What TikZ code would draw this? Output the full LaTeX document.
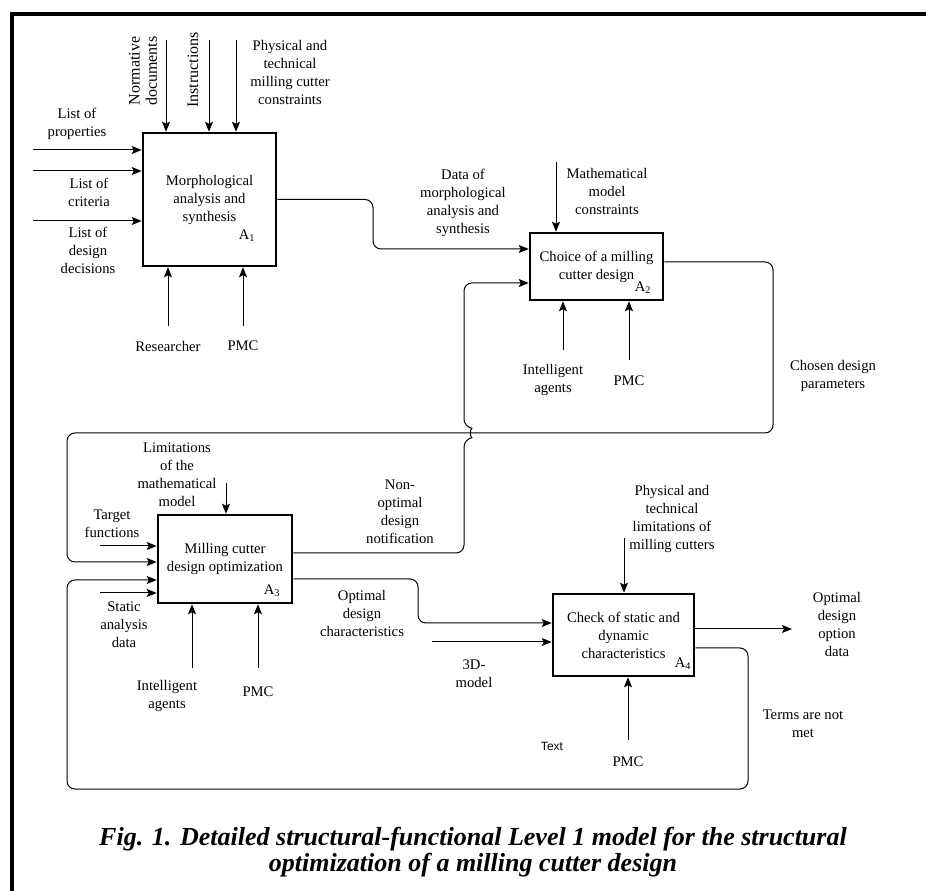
\documentclass[tikz,border=0pt]{standalone}
\usepackage{fontspec}
\setmainfont{Liberation Serif}
\newfontfamily\labelsans{Liberation Sans}
\usetikzlibrary{arrows.meta,calc}

\tikzset{every picture/.style={line width=0.75pt}}
\tikzset{
  funcbox/.style={draw, line width=1.9pt, align=center, inner sep=2pt, font=\fontsize{11}{13.5}\selectfont},
  lbl/.style={align=center, inner sep=0.75pt, font=\fontsize{11}{13.5}\selectfont},
  vlbl/.style={align=center, inner sep=0.75pt, rotate=90, font=\fontsize{12}{13}\selectfont},
  idx/.style={inner sep=0.75pt, font=\fontsize{11}{13.5}\selectfont},
  flow/.style={-{Stealth[length=7.5pt,width=6pt,inset=1.5pt]}, rounded corners=6pt},
}

\begin{document}
\begin{tikzpicture}[x=0.75pt,y=0.75pt,yscale=-1,xscale=1]
\useasboundingbox (0,0) rectangle (926,891);

%Frame
\draw [line width=3pt] (12,891) -- (12,14) -- (926,14) ;

%Shape: Boxes
\node [funcbox, minimum width=99.75pt, minimum height=99.75pt] (A1) at (209.5,199.5) {Morphological\\analysis and\\synthesis};
\node [funcbox, minimum width=99.75pt, minimum height=50.25pt] (A2) at (596.5,266.5) {Choice of a milling\\cutter design};
\node [funcbox, minimum width=100.5pt, minimum height=66pt] (A3) at (225,559) {Milling cutter\\design optimization};
\node [funcbox, minimum width=105.75pt, minimum height=61.5pt] (A4) at (623.5,635) {Check of static and\\dynamic\\characteristics};

% Box numbers
\node [idx] (A1n) at (247,236) {A\textsubscript{1}};
\node [idx] (A2n) at (643,288) {A\textsubscript{2}};
\node [idx] (A3n) at (272,591) {A\textsubscript{3}};
\node [idx] (A4n) at (683,664) {A\textsubscript{4}};

%Free ends
\coordinate (prop) at (33,150);
\coordinate (crit) at (33,171);
\coordinate (decis) at (33,221);
\coordinate (normdoc) at (166,40);
\coordinate (instr) at (209,40);
\coordinate (physcon) at (236,40);
\coordinate (resrch) at (168,326);
\coordinate (pmca) at (243,326);
\coordinate (mathcon) at (556,162);
\coordinate (agentsb) at (563,350);
\coordinate (pmcb) at (629,360);
\coordinate (mathlim) at (226,483);
\coordinate (target) at (100,546);
\coordinate (static) at (100,593);
\coordinate (agentsc) at (192,668);
\coordinate (pmcc) at (258,668);
\coordinate (model3d) at (432,642);
\coordinate (physlim) at (624,538);
\coordinate (pmcd) at (628,740);
\coordinate (optdata) at (792,629);

%Straight Lines: A1
\draw [flow] (prop) -- (prop -| A1.west) ;
\draw [flow] (crit) -- (crit -| A1.west) ;
\draw [flow] (decis) -- (decis -| A1.west) ;
\draw [flow] (normdoc) -- (normdoc |- A1.north) ;
\draw [flow] (instr) -- (instr |- A1.north) ;
\draw [flow] (physcon) -- (physcon |- A1.north) ;
\draw [flow] (resrch) -- (resrch |- A1.south) ;
\draw [flow] (pmca) -- (pmca |- A1.south) ;

%Straight Lines: A2
\draw [flow] (A1.east) -- (373,199.5) -- (373,249) -- ($(A2.west)+(0,-17.5)$) ;
\draw [flow] (mathcon) -- (mathcon |- A2.north) ;
\draw [flow] (agentsb) -- (agentsb |- A2.south) ;
\draw [flow] (pmcb) -- (pmcb |- A2.south) ;

%Straight Lines: A3
\draw [flow] ($(A2.east)+(0,-4.5)$) -- (773,262) -- (773,433) -- (67,433) -- (67,562) -- ($(A3.west)+(0,3)$) ;
\draw [flow] ($(A3.east)+(0,-6)$) -- (464,553) -- (464,439) .. controls (470,438) and (470,428) .. (464,427) -- (464,283) -- ($(A2.west)+(0,16.5)$) ;
\draw [flow] (target) -- (target -| A3.west) ;
\draw [flow] (static) -- (static -| A3.west) ;
\draw [flow] (mathlim) -- (mathlim |- A3.north) ;
\draw [flow] (agentsc) -- (agentsc |- A3.south) ;
\draw [flow] (pmcc) -- (pmcc |- A3.south) ;

%Straight Lines: A4
\draw [flow] ($(A3.east)+(0,20)$) -- (418,579) -- (418,623) -- ($(A4.west)+(0,-12)$) ;
\draw [flow] (model3d) -- (model3d -| A4.west) ;
\draw [flow] (physlim) -- (physlim |- A4.north) ;
\draw [flow] (pmcd) -- (pmcd |- A4.south) ;
\draw [flow] (A4.east |- optdata) -- (optdata) ;
\draw [flow] ($(A4.east)+(0,13)$) -- (748,648) -- (748,789) -- (67,789) -- (67,580) -- ($(A3.west)+(0,21)$) ;

% Text Node
\node [lbl] (tprop) at (77,124) {List of\\properties};
\node [lbl] (tcrit) at (89,192) {List of\\criteria};
\node [lbl] (tdecis) at (88,250) {List of\\design\\decisions};
\node [vlbl] (tnormdoc) at (143,71) {Normative\\documents};
\node [vlbl] (tinstr) at (193,70) {Instructions};
\node [lbl] (tphyscon) at (290,72) {Physical and\\technical\\milling cutter\\constraints};
\node [lbl] (tresrch) at (168,346) {Researcher};
\node [lbl] (tpmca) at (243,346) {PMC};
\node [lbl] (tdata) at (463,203) {Data of\\morphological\\analysis and\\synthesis};
\node [lbl] (tmathcon) at (607,191) {Mathematical\\model\\constraints};
\node [lbl] (tagentsb) at (553,380) {Intelligent\\agents};
\node [lbl] (tpmcb) at (629,381) {PMC};
\node [lbl] (tchosen) at (833,376) {Chosen design\\parameters};
\node [lbl] (tmathlim) at (177,475) {Limitations\\of the\\mathematical\\model};
\node [lbl] (ttarget) at (112,524) {Target\\functions};
\node [lbl] (tstatic) at (124,625) {Static\\analysis\\data};
\node [lbl] (tagentsc) at (167,696) {Intelligent\\agents};
\node [lbl] (tpmcc) at (258,692) {PMC};
\node [lbl] (tnonopt) at (400,512) {Non-\\optimal\\design\\notification};
\node [lbl] (toptchar) at (362,613) {Optimal\\design\\characteristics};
\node [lbl] (tmodel3d) at (474,674) {3D-\\model};
\node [lbl] (tphyslim) at (672,519) {Physical and\\technical\\limitations of\\milling cutters};
\node [lbl] (toptdata) at (837,624) {Optimal\\design\\option\\data};
\node [lbl] (tterms) at (803,724) {Terms are not\\met};
\node [inner sep=0.75pt, font=\labelsans\fontsize{9}{11}\selectfont] (ttext) at (552,746) {Text};
\node [lbl] (tpmcd) at (628,762) {PMC};

% Caption
\node [align=center, inner sep=0pt, font=\fontsize{19.5}{19.5}\selectfont\bfseries\itshape] (caption) at (473,852) {Fig. 1. Detailed structural-functional Level 1 model for the structural\\optimization of a milling cutter design};

\end{tikzpicture}
\end{document}
